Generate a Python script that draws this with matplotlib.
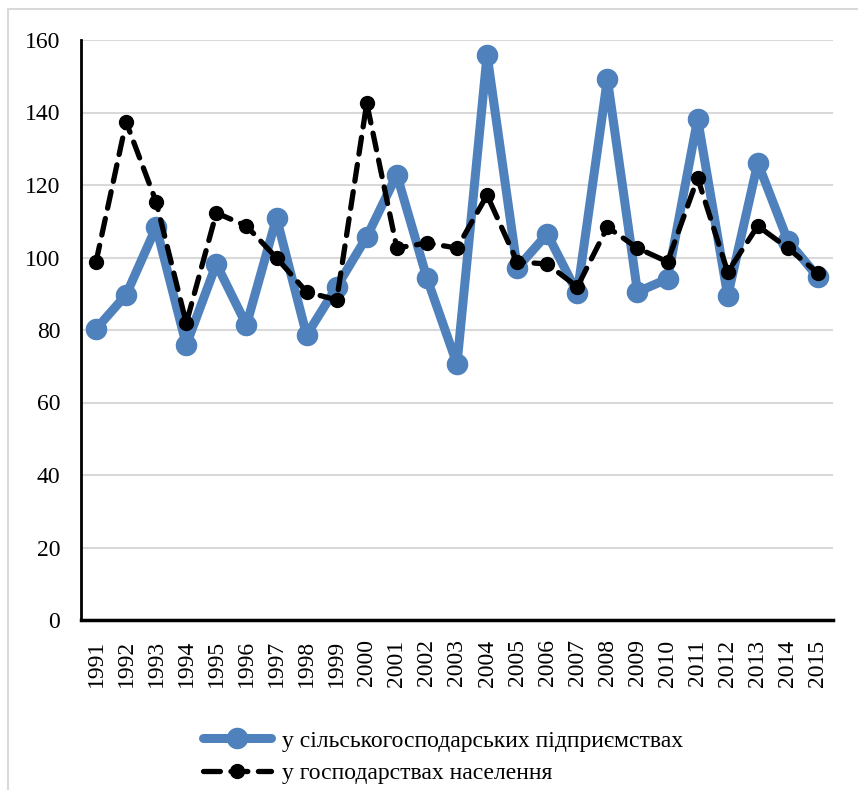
import matplotlib
matplotlib.use("Agg")
import matplotlib.pyplot as plt
from matplotlib.patches import Rectangle
from matplotlib.lines import Line2D

years = [str(y) for y in range(1991, 2016)]
enterprises = [80.3, 89.7, 108.4, 75.9, 98.2, 81.4, 110.9, 78.6, 91.9, 105.7,
               122.8, 94.3, 70.6, 155.9, 97.1, 106.5, 90.2, 149.2, 90.5, 94.1,
               138.2, 89.4, 126.1, 104.6, 94.6]
households = [98.8, 137.4, 115.3, 81.9, 112.3, 108.7, 99.9, 90.5, 88.3, 142.6,
              102.6, 104.0, 102.6, 117.2, 98.8, 98.2, 91.9, 108.4, 102.6, 98.8,
              121.9, 96.0, 108.7, 102.6, 95.7]
labels = ["у сільськогосподарських підприємствах", "у господарствах населення"]
yticks = [0, 20, 40, 60, 80, 100, 120, 140, 160]

plt.rcParams['font.family'] = ['Liberation Serif', 'DejaVu Serif']

W, H = 858, 790
fig = plt.figure(figsize=(W / 100, H / 100), dpi=100)
fig.patches.append(Rectangle((8 / W, -0.1), 1.2, 1 - 9 / H + 0.1, transform=fig.transFigure,
                             fill=False, edgecolor='#D9D9D9', linewidth=1.5))

ax = fig.add_axes([81 / W, (H - 620) / H, (833 - 81) / W, (620 - 40) / H])
x = list(range(len(years)))
blue_kw = dict(color='#4F81BD', lw=6.5, marker='o', markersize=14.5,
               solid_capstyle='round', solid_joinstyle='round')
black_kw = dict(color='black', lw=3.8, dashes=[3.2, 2.0], marker='o', markersize=10,
                dash_capstyle='round')
ax.plot(x, enterprises, zorder=3, **blue_kw)
ax.plot(x, households, zorder=4, **black_kw)

ax.set_xlim(-0.5, len(years) - 0.5)
ax.set_ylim(0, 160)
ax.set_yticks(yticks)
ax.set_yticklabels([str(v) for v in yticks])
ax.set_xticks(x)
ax.set_xticklabels(years, rotation=90)
ax.tick_params(axis='both', length=0, labelsize=17)
ax.tick_params(axis='y', pad=15)
ax.tick_params(axis='x', pad=14)
ax.grid(axis='y', color='#D9D9D9', lw=1.5)
ax.set_axisbelow(True)
for s in ['top', 'right']:
    ax.spines[s].set_visible(False)
ax.spines['left'].set_linewidth(2)
ax.spines['bottom'].set_linewidth(2.5)

handles = [Line2D([], [], **blue_kw), Line2D([], [], **black_kw)]
fig.legend(handles, labels, loc='center', bbox_to_anchor=(443 / W, 1 - 757 / H),
           frameon=False, fontsize=17, handlelength=2.9, handletextpad=0.45,
           labelspacing=0.45, borderpad=0)

fig.savefig('out.png', dpi=100)
